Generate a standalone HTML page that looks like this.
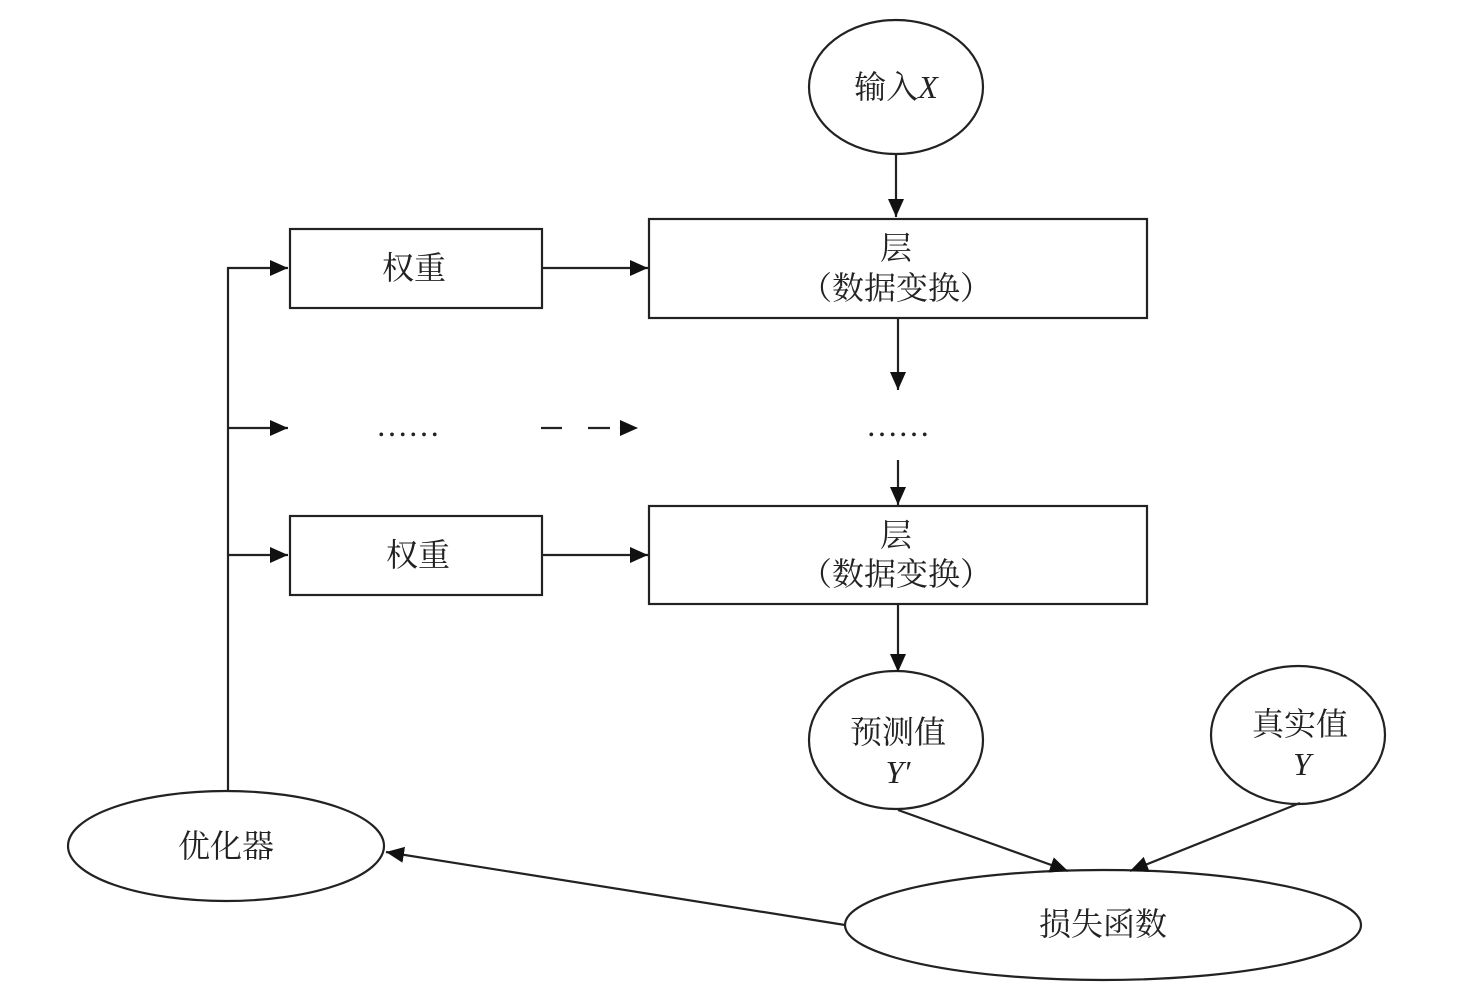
<!DOCTYPE html>
<html><head><meta charset="utf-8"><style>
html,body{margin:0;padding:0;background:#fff;}
svg{display:block}
text{font-family:"Liberation Serif","Noto Serif CJK SC",serif;fill:#222;font-size:32px;text-anchor:middle}
</style></head><body>
<svg width="1474" height="996" viewBox="0 0 1474 996">
<defs><marker id="a" markerWidth="20" markerHeight="20" refX="18" refY="10" orient="auto" markerUnits="userSpaceOnUse"><path d="M0,2 L18,10 L0,18 Z" fill="#111"/></marker></defs>
<g stroke="#222" stroke-width="2.2" fill="none">
<ellipse cx="896" cy="87" rx="87" ry="67" fill="#fff"/>
<rect x="649" y="219" width="498" height="99"/>
<rect x="290" y="229" width="252" height="79"/>
<rect x="649" y="506" width="498" height="98"/>
<rect x="290" y="516" width="252" height="79"/>
<ellipse cx="896" cy="740" rx="87" ry="69"/>
<ellipse cx="1298" cy="735" rx="87" ry="69"/>
<ellipse cx="1103" cy="925" rx="258" ry="55"/>
<ellipse cx="226" cy="846" rx="158" ry="55"/>
<line x1="896" y1="154" x2="896" y2="217" marker-end="url(#a)"/>
<line x1="542" y1="268" x2="648" y2="268" marker-end="url(#a)"/>
<line x1="542" y1="555" x2="648" y2="555" marker-end="url(#a)"/>
<line x1="898" y1="318" x2="898" y2="390" marker-end="url(#a)"/>
<line x1="898" y1="460" x2="898" y2="505" marker-end="url(#a)"/>
<line x1="898" y1="604" x2="898" y2="672" marker-end="url(#a)"/>
<line x1="541" y1="428" x2="562" y2="428"/>
<line x1="588" y1="428" x2="620" y2="428" stroke-dasharray="22 100"/>
<line x1="618" y1="428" x2="638" y2="428" marker-end="url(#a)" stroke-width="0.1"/>
<polyline points="228,791 228,268 288,268" marker-end="url(#a)"/>
<line x1="228" y1="428" x2="288" y2="428" marker-end="url(#a)"/>
<line x1="228" y1="555" x2="288" y2="555" marker-end="url(#a)"/>
<line x1="898" y1="810" x2="1068" y2="871" marker-end="url(#a)"/>
<line x1="1300" y1="803" x2="1130" y2="871" marker-end="url(#a)"/>
<line x1="845" y1="925" x2="386" y2="852" marker-end="url(#a)"/>
</g>
<text x="896" y="98">输入<tspan font-style="italic">X</tspan></text>
<text x="896" y="259">层</text>
<text x="896" y="299">（数据变换）</text>
<text x="414" y="279">权重</text>
<text x="896" y="546">层</text>
<text x="896" y="585">（数据变换）</text>
<text x="418" y="566">权重</text>
<text x="408" y="436" font-size="26">……</text>
<text x="898" y="436" font-size="26">……</text>
<text x="898" y="743">预测值</text>
<text x="898" y="783" font-style="italic">Y′</text>
<text x="1300" y="735">真实值</text>
<text x="1302" y="775" font-style="italic">Y</text>
<text x="1103" y="935">损失函数</text>
<text x="226" y="857">优化器</text>
</svg>
</body></html>
